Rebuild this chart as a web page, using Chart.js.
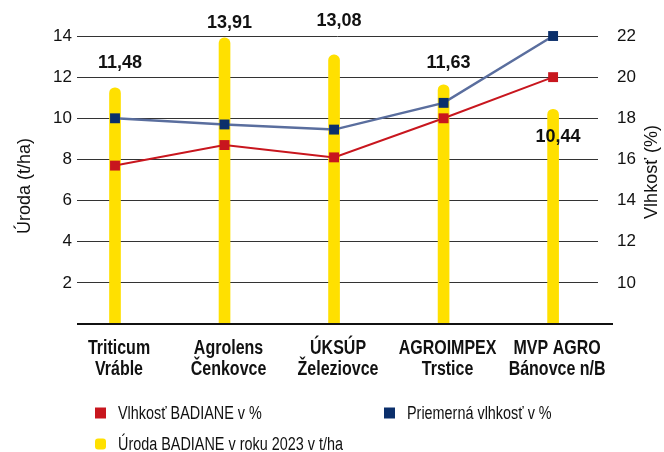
<!DOCTYPE html>
<html>
<head>
<meta charset="utf-8">
<script src="https://cdn.jsdelivr.net/npm/chart.js@4.4.1/dist/chart.umd.min.js"></script>
<style>
  html, body { margin: 0; padding: 0; background: #fff; }
  #wrap { width: 664px; height: 452px; }
</style>
</head>
<body>
<div id="wrap"><canvas id="chart" width="664" height="452"></canvas></div>
<script>
// data
const categories = [
  ["Triticum", "Vráble"],
  ["Agrolens", "Čenkovce"],
  ["ÚKSÚP", "Železiovce"],
  ["AGROIMPEX", "Trstice"],
  ["MVP AGRO", "Bánovce n/B"]
];
const yieldValues = [11.48, 13.91, 13.08, 11.63, 10.44];
const moistureBadiane = [15.7, 16.7, 16.1, 18.0, 20.0];
const moistureAverage = [18.0, 17.7, 17.45, 18.75, 22.0];
const seriesNames = ["Vlhkosť BADIANE v %", "Priemerná vlhkosť v %", "Úroda BADIANE v roku 2023 v t/ha"];
const yieldTicks = [2, 4, 6, 8, 10, 12, 14];
const moistureTicks = [10, 12, 14, 16, 18, 20, 22];

const RED = "#C8161E";
const NAVY = "#0B2F6B";
const SLATE = "#5A6E9E";
const YELLOW = "#FFE000";
const sans = '"Liberation Sans", Arial, sans-serif';
const SQUEEZE = 0.8; // narrow look, like Arial Narrow

// draw text horizontally squeezed around x
function narrowText(ctx, txt, x, y, align) {
  ctx.save();
  ctx.translate(x, y);
  ctx.scale(SQUEEZE, 1);
  ctx.textAlign = align;
  ctx.fillText(txt, 0, 0);
  ctx.restore();
}

const extras = {
  id: "extras",
  afterDatasetsDraw(chart, args, opts) {
    const ctx = chart.ctx;
    const area = chart.chartArea;
    const xs = chart.scales.x;

    // x axis line, runs a bit past the grid on the right
    ctx.save();
    ctx.strokeStyle = "#111";
    ctx.lineWidth = 2;
    ctx.beginPath();
    ctx.moveTo(area.left, area.bottom);
    ctx.lineTo(area.right + 15, area.bottom);
    ctx.stroke();

    // category labels
    ctx.fillStyle = "#111";
    ctx.textBaseline = "alphabetic";
    ctx.font = "bold 20px " + sans;
    categories.forEach((lines, i) => {
      const px = xs.getPixelForValue(i) + 4;
      lines.forEach((ln, k) => narrowText(ctx, ln, px, area.bottom + 30 + k * 21, "center"));
    });

    // value labels on the bars
    const meta = chart.getDatasetMeta(0);
    ctx.font = "bold 18px " + sans;
    ctx.textAlign = "center";
    ctx.textBaseline = "middle";
    meta.data.forEach((bar, i) => {
      const txt = yieldValues[i].toFixed(2).replace(".", ",");
      ctx.fillText(txt, bar.x + 5, bar.y + opts.labelShift[i]);
    });

    // axis titles (both read bottom to top)
    ctx.font = "18px " + sans;
    ctx.save();
    ctx.translate(25, (area.top + area.bottom) / 2 + 6);
    ctx.rotate(-Math.PI / 2);
    ctx.fillText("Úroda (t/ha)", 0, 0);
    ctx.restore();
    ctx.save();
    ctx.translate(652, (area.top + area.bottom) / 2 - 8);
    ctx.rotate(-Math.PI / 2);
    ctx.fillText("Vlhkosť (%)", 0, 0);
    ctx.restore();

    // legend
    ctx.font = "18px " + sans;
    const items = [
      { c: RED, t: seriesNames[0], x: 95, y: 413, r: 0 },
      { c: NAVY, t: seriesNames[1], x: 384, y: 413, r: 0 },
      { c: YELLOW, t: seriesNames[2], x: 95, y: 444, r: 3 }
    ];
    items.forEach(it => {
      ctx.fillStyle = it.c;
      ctx.beginPath();
      ctx.roundRect(it.x, it.y - 5.5, 11, 11, it.r);
      ctx.fill();
      ctx.fillStyle = "#111";
      narrowText(ctx, it.t, it.x + 23, it.y + 1, "left");
    });
    ctx.restore();
  }
};

new Chart(document.getElementById("chart"), {
  type: "bar",
  data: {
    datasets: [
      {
        type: "bar",
        label: seriesNames[2],
        data: yieldValues.map((v, i) => ({ x: i, y: v })),
        yAxisID: "y",
        backgroundColor: YELLOW,
        barThickness: 11,
        borderRadius: { topLeft: 6, topRight: 6 },
        borderSkipped: false,
        order: 2
      },
      {
        type: "line",
        label: seriesNames[0],
        data: moistureBadiane.map((v, i) => ({ x: i, y: v })),
        yAxisID: "y2",
        borderColor: RED,
        borderWidth: 2,
        pointStyle: "rect",
        pointRadius: 7,
        pointBackgroundColor: RED,
        pointBorderWidth: 0,
        tension: 0,
        clip: false,
        order: 1
      },
      {
        type: "line",
        label: seriesNames[1],
        data: moistureAverage.map((v, i) => ({ x: i, y: v })),
        yAxisID: "y2",
        borderColor: SLATE,
        borderWidth: 2.5,
        pointStyle: "rect",
        pointRadius: 7,
        pointBackgroundColor: NAVY,
        pointBorderWidth: 0,
        tension: 0,
        clip: false,
        order: 0
      }
    ]
  },
  options: {
    responsive: false,
    animation: false,
    layout: { padding: { top: 36, left: 0, right: 0, bottom: 0 } },
    plugins: {
      legend: { display: false },
      tooltip: { enabled: false },
      extras: { labelShift: [-25, -15, -34, -22, 28] }
    },
    scales: {
      x: {
        type: "linear",
        offset: false,
        min: -0.347,
        max: 4.41,
        grid: { display: false, offset: false },
        border: { display: false },
        ticks: { display: false },
        afterFit: s => { s.height = 128; }
      },
      y: {
        position: "left",
        min: 0,
        max: 14,
        afterBuildTicks: s => { s.ticks = yieldTicks.map(v => ({ value: v })); },
        afterFit: s => { s.width = 77; },
        grid: { color: "#333", lineWidth: 1, drawTicks: false },
        border: { display: false },
        ticks: { padding: 5, color: "#111", font: { family: sans, size: 17 } }
      },
      y2: {
        position: "right",
        min: 8,
        max: 22,
        afterBuildTicks: s => { s.ticks = moistureTicks.map(v => ({ value: v })); },
        afterFit: s => { s.width = 66; },
        grid: { display: false },
        border: { display: false },
        ticks: { padding: 11, color: "#111", font: { family: sans, size: 17 } }
      }
    }
  },
  plugins: [extras]
});
</script>
</body>
</html>
